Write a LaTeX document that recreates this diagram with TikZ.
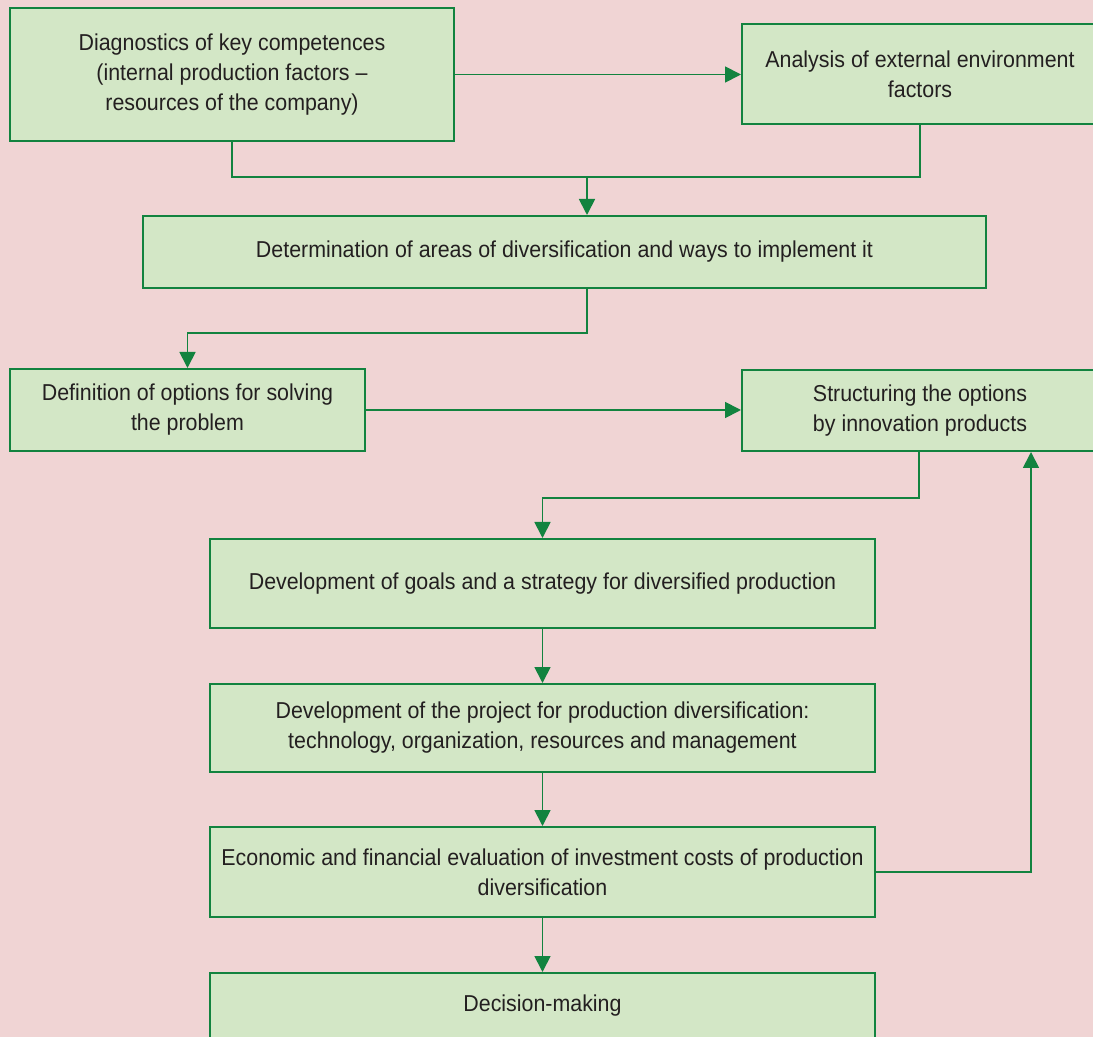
\documentclass[tikz,border=0pt]{standalone}
\usepackage{fontspec}
\setmainfont[FakeStretch=0.93]{Liberation Sans}
\usetikzlibrary{arrows.meta}
\definecolor{bgpink}{HTML}{F0D4D4}
\definecolor{boxgreen}{HTML}{D3E7C6}
\definecolor{linegreen}{HTML}{12833F}
\definecolor{txtgray}{HTML}{231F20}
\begin{document}
\begin{tikzpicture}[x=0.5pt,y=-0.5pt,
  stage/.style={draw=linegreen, line width=1pt, fill=boxgreen, text=txtgray, align=center, inner sep=0pt, font=\fontsize{11.5}{15}\selectfont},
  wire/.style={draw=linegreen, line width=0.9pt},
  link/.style={wire, -{Triangle[length=8pt,width=8pt]}}]
\fill[bgpink] (0,0) rectangle (1093,1037);
\useasboundingbox (0,0) rectangle (1093,1037);
\node[stage, minimum width=222pt, minimum height=66.5pt] (diag) at (232,74.5) {Diagnostics of key competences\\(internal production factors –\\resources of the company)};
\node[stage, minimum width=178pt, minimum height=50pt] (anal) at (920,74) {Analysis of external environment\\factors};
\node[stage, minimum width=421.5pt, minimum height=36pt] (det) at (564.5,252) {Determination of areas of diversification and ways to implement it};
\node[stage, minimum width=177.5pt, minimum height=41pt] (defn) at (187.5,410) {Definition of options for solving\\the problem};
\node[stage, minimum width=178pt, minimum height=40.5pt] (struct) at (920,410.5) {Structuring the options\\by innovation products};
\node[stage, minimum width=332.5pt, minimum height=44.5pt] (goals) at (542.5,583.5) {Development of goals and a strategy for diversified production};
\node[stage, minimum width=332.5pt, minimum height=44pt] (proj) at (542.5,728) {Development of the project for production diversification:\\technology, organization, resources and management};
\node[stage, minimum width=332.5pt, minimum height=45pt] (econ) at (542.5,872) {Economic and financial evaluation of investment costs of production\\diversification};
\node[stage, minimum width=332.5pt, anchor=north, text height=19pt, text depth=30pt] (dec) at (542.5,972) {Decision-making};
\coordinate (merge) at (587,177);
\coordinate (split) at (587,333);
\coordinate (turn) at (919,498);
\coordinate (back) at (1031,872);
\draw[link] (diag.east) -- (diag.east -| anal.west);
\draw[wire] (diag.south) |- (merge) -| (anal.south);
\draw[link] (merge) -- (merge |- det.north);
\draw[link] (merge |- det.south) -- (split) -| (defn.north);
\draw[link] (defn.east) -- (defn.east -| struct.west);
\draw[link] (turn |- struct.south) -- (turn) -| (goals.north);
\draw[link] (goals.south) -- (proj.north);
\draw[link] (proj.south) -- (econ.north);
\draw[link] (econ.south) -- (dec.north);
\draw[link] (econ.east) -- (back) -- (back |- struct.south);
\end{tikzpicture}
\end{document}
